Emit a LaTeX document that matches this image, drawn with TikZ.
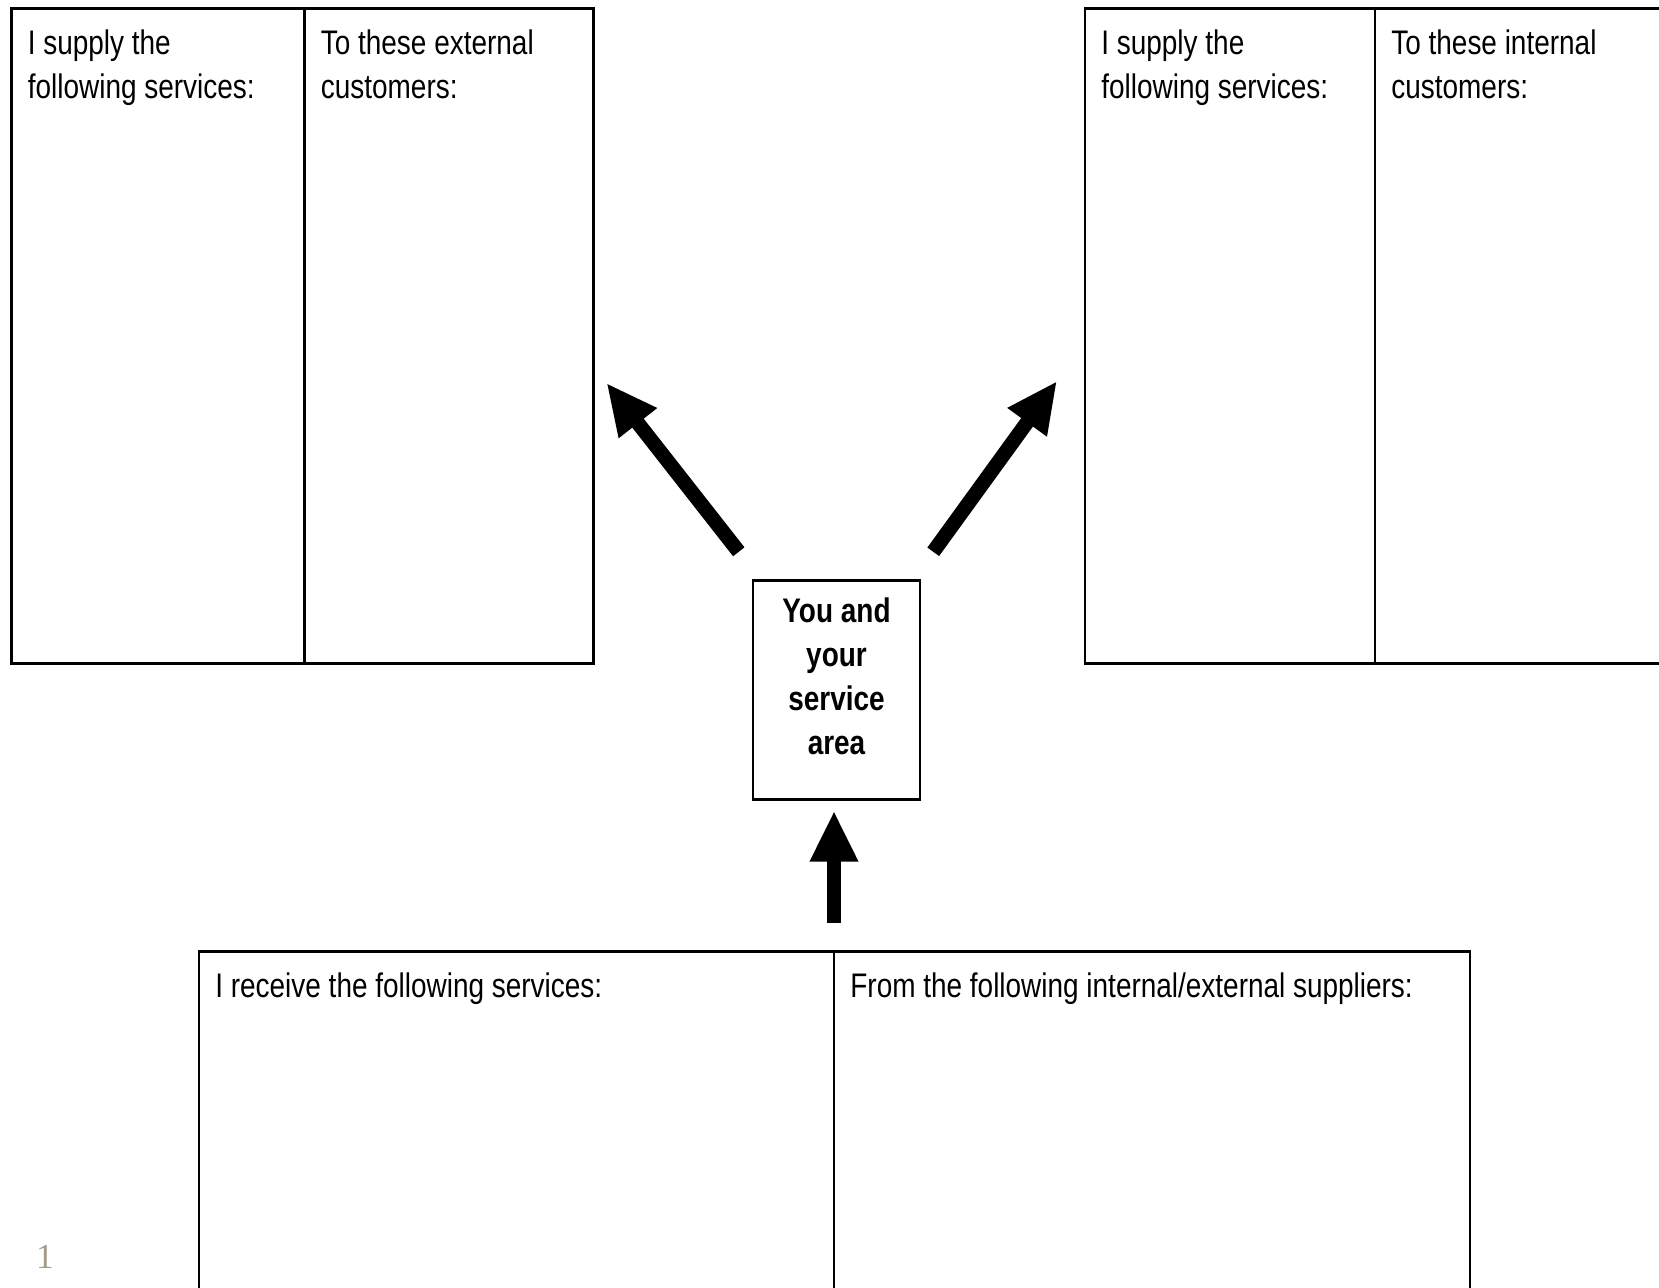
\documentclass[tikz,border=0pt]{standalone}
\usepackage{fontspec}
\setmainfont[FakeStretch=0.82]{Liberation Sans}
\newfontfamily\pagenofont{Liberation Serif}
\usetikzlibrary{arrows.meta, positioning}
\definecolor{pagetan}{RGB}{165,155,135}

\begin{document}
\begin{tikzpicture}[
    cell/.style={draw, line width=1.4pt, rectangle, inner sep=0pt, outer sep=0pt, minimum height=13.1cm},
    capt/.style={anchor=north west, align=left, inner sep=0pt, xshift=0.32cm, yshift=-0.42cm,
        font=\fontsize{19.4}{25}\selectfont},
    youbox/.style={draw, line width=1.4pt, rectangle, inner sep=0pt, minimum width=3.34cm, minimum height=4.38cm},
    youtext/.style={anchor=north, align=center, inner sep=0pt, yshift=-0.37cm,
        font=\fontsize{19.4}{25}\selectfont\bfseries},
    bigarrow/.style={-{Triangle[length=1.02cm, width=0.9cm]}, line width=0.29cm, black},
    pageno/.style={font=\pagenofont\fontsize{20}{24}\selectfont, text=pagetan, inner sep=0pt}
]
    \clip (0,0) rectangle (33.18,-25.74);

    % Top-left box (external customers)
    \node[cell, anchor=north west, minimum width=5.86cm,
        label={[capt]north west:{I supply the\\following services:}}] (extsvc) at (0.23,-0.17) {};
    \node[cell, anchor=west, minimum width=5.78cm, right=0cm of extsvc,
        label={[capt]north west:{To these external\\customers:}}] (extcust) {};

    % Top-right box (internal customers)
    \node[cell, anchor=north west, minimum width=5.8cm,
        label={[capt]north west:{I supply the\\following services:}}] (intsvc) at (21.7,-0.17) {};
    \node[cell, anchor=west, minimum width=5.86cm, right=0cm of intsvc,
        label={[capt]north west:{To these internal\\customers:}}] (intcust) {};

    % Centre box
    \node[youbox, label={[youtext]north:{You and\\your\\service\\area}}] (you) at (16.73,-13.8) {};

    % Bottom box (suppliers)
    \node[cell, anchor=north west, minimum width=12.7cm, minimum height=7cm,
        label={[capt]north west:{I receive the following services:}}] (recv) at (3.98,-19.03) {};
    \node[cell, anchor=west, minimum width=12.72cm, minimum height=7cm, right=0cm of recv,
        label={[capt]north west:{From the following internal/external suppliers:}}] (supp) {};

    % Arrows
    \draw[bigarrow] ([shift={(-0.26,0.55)}]you.north west) -- ([shift={(0.26,-0.94)}]extcust.east);
    \draw[bigarrow] ([shift={(0.24,0.55)}]you.north east) -- ([shift={(-0.56,-0.9)}]intsvc.west);
    \draw[bigarrow] ([yshift=0.57cm]recv.north east) -- ([yshift=-0.2cm]you.south -| recv.north east);

    % Page number
    \node[pageno] (pagenum) at (0.9,-25.14) {1};
\end{tikzpicture}
\end{document}
